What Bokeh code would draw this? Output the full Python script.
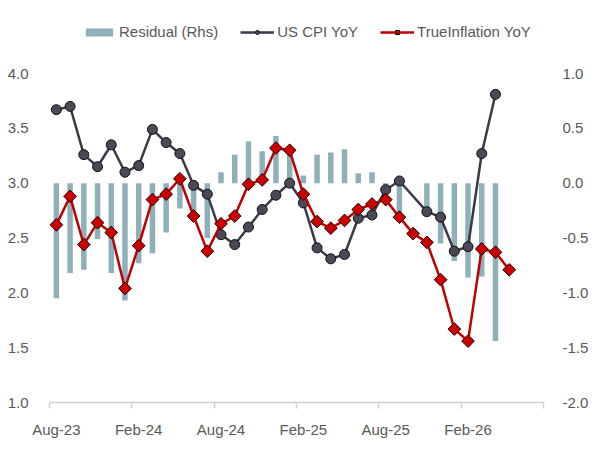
import numpy as np
from bokeh.plotting import figure
from bokeh.models import (Range1d, LinearAxis, FixedTicker, Legend, LegendItem,
                          ColumnDataSource, NumeralTickFormatter)
from bokeh.embed import file_html
from bokeh.resources import INLINE

# Monthly observations, Aug-23 .. May-26
months = ["Aug-23", "Sep-23", "Oct-23", "Nov-23", "Dec-23", "Jan-24", "Feb-24", "Mar-24",
          "Apr-24", "May-24", "Jun-24", "Jul-24", "Aug-24", "Sep-24", "Oct-24", "Nov-24",
          "Dec-24", "Jan-25", "Feb-25", "Mar-25", "Apr-25", "May-25", "Jun-25", "Jul-25",
          "Aug-25", "Sep-25", "Oct-25", "Nov-25", "Dec-25", "Jan-26", "Feb-26", "Mar-26",
          "Apr-26", "May-26"]

us_cpi = [3.67, 3.70, 3.26, 3.15, 3.35, 3.10, 3.16, 3.49, 3.37, 3.27, 2.98, 2.90,
          2.53, 2.44, 2.60, 2.76, 2.89, 3.00, 2.82, 2.41, 2.31, 2.35, 2.68, 2.71,
          2.94, 3.02, None, 2.74, 2.69, 2.38, 2.42, 3.27, 3.81, None]

true_inflation = [2.62, 2.88, 2.44, 2.64, 2.55, 2.04, 2.43, 2.85, 2.90, 3.04, 2.70, 2.38,
                  2.63, 2.70, 2.99, 3.03, 3.32, 3.30, 2.90, 2.65, 2.59, 2.66, 2.76, 2.81,
                  2.85, 2.69, 2.54, 2.46, 2.12, 1.67, 1.56, 2.40, 2.37, 2.21]

residual = [-1.05, -0.82, -0.79, -0.51, -0.82, -1.07, -0.73, -0.64, -0.45, -0.23, -0.26, -0.50,
            0.10, 0.26, 0.38, 0.29, 0.43, 0.27, 0.07, 0.26, 0.28, 0.31, 0.09, 0.10,
            -0.06, -0.28, None, -0.27, -0.55, -0.71, -0.86, -0.85, -1.44, None]

x_tick_labels = ["Aug-23", "Feb-24", "Aug-24", "Feb-25", "Aug-25", "Feb-26"]
lhs_ticks = [1.0, 1.5, 2.0, 2.5, 3.0, 3.5, 4.0]
rhs_ticks = [-2.0, -1.5, -1.0, -0.5, 0.0, 0.5, 1.0]

FONT = "Liberation Sans"
TEXT = "#595959"
FONT_SIZE = "15px"

# Layout: the scale runs from 1.0 (y=402px) to 4.0 (y=73px); the frame is
# stretched upward to y=15px so the legend can sit inside it above the data.
W, H = 600, 450
TOP, BOTTOM, LEFT, RIGHT = 15, 48, 49, 57
SCALE_TOP_PX = 73
frame_h = H - TOP - BOTTOM
scale_px = frame_h - (SCALE_TOP_PX - TOP)
headroom = 3.0 * (SCALE_TOP_PX - TOP) / scale_px

# month i sits at integer x; slot boundaries at half-integers
xpos = [float(i) for i in range(len(months))]

bar_src = ColumnDataSource(dict(
    x=[xv for xv, r in zip(xpos, residual) if r is not None],
    top=[r for r in residual if r is not None]))
cpi_src = ColumnDataSource(dict(
    x=[xv for xv, c in zip(xpos, us_cpi) if c is not None],
    y=[c for c in us_cpi if c is not None]))
ti_src = ColumnDataSource(dict(x=xpos, y=true_inflation))

p = figure(width=W, height=H, output_backend="svg", toolbar_location=None,
           x_range=Range1d(-0.5, 35.5), y_range=Range1d(1.0, 4.0 + headroom),
           min_border_left=LEFT, min_border_right=RIGHT,
           min_border_top=TOP, min_border_bottom=BOTTOM)
p.extra_y_ranges = {"rhs": Range1d(-2.0, 1.0 + headroom)}
p.xgrid.visible = False
p.ygrid.visible = False
p.outline_line_color = None

# left axis
ly = p.yaxis[0]
ly.ticker = FixedTicker(ticks=lhs_ticks)
ly.formatter = NumeralTickFormatter(format="0.0")
ly.axis_line_color = None
ly.major_tick_line_color = None
ly.minor_tick_line_color = None
ly.major_label_standoff = 15
ly.major_label_text_font = FONT
ly.major_label_text_font_size = FONT_SIZE
ly.major_label_text_color = TEXT

# right axis for the residual bars
ry = LinearAxis(y_range_name="rhs", ticker=FixedTicker(ticks=rhs_ticks),
                formatter=NumeralTickFormatter(format="0.0"))
ry.axis_line_color = None
ry.major_tick_line_color = None
ry.minor_tick_line_color = None
ry.major_label_standoff = 13
ry.major_label_text_font = FONT
ry.major_label_text_font_size = FONT_SIZE
ry.major_label_text_color = TEXT
p.add_layout(ry, "right")

# bottom axis: labels centred on the month, tick marks on slot boundaries
xa = p.xaxis[0]
xa.ticker = FixedTicker(ticks=[6 * k for k in range(len(x_tick_labels))],
                        minor_ticks=[6 * k - 0.5 for k in range(7)])
xa.major_label_overrides = {6 * k: lab for k, lab in enumerate(x_tick_labels)}
xa.axis_line_color = "#d0d0d0"
xa.axis_line_width = 1.5
xa.major_tick_line_color = None
xa.minor_tick_line_color = "#d0d0d0"
xa.minor_tick_line_width = 1.5
xa.minor_tick_in = 0
xa.minor_tick_out = 6
xa.major_label_standoff = 12
xa.major_label_text_font = FONT
xa.major_label_text_font_size = FONT_SIZE
xa.major_label_text_color = TEXT

BAR = "#8eb0b9"
bars = p.vbar(x="x", top="top", bottom=0, width=0.4, source=bar_src,
              y_range_name="rhs", fill_color=BAR, line_color=None)

cpi_line = p.line("x", "y", source=cpi_src, line_color="#3a3a48", line_width=2.5)
cpi_pts = p.scatter("x", "y", source=cpi_src, marker="circle", size=10,
                    fill_color="#494958", line_color="#111111", line_width=1)

ti_line = p.line("x", "y", source=ti_src, line_color="#c00000", line_width=2.5)
ti_pts = p.scatter("x", "y", source=ti_src, marker="square", angle=np.pi / 4, size=9,
                   fill_color="#cc0000", line_color="#1a0000", line_width=1)

# horizontal legend across the top (location is relative to the frame's bottom-left)
legend = Legend(items=[
    LegendItem(label="Residual (Rhs)", renderers=[bars]),
    LegendItem(label="US CPI YoY", renderers=[cpi_line, cpi_pts]),
    LegendItem(label="TrueInflation YoY", renderers=[ti_line, ti_pts]),
], orientation="horizontal", location=(33, frame_h - 25))
legend.glyph_width = 34
legend.glyph_height = 10
legend.label_standoff = 3
legend.spacing = 22
legend.padding = 0
legend.margin = 0
legend.border_line_color = None
legend.background_fill_alpha = 0
legend.label_text_font = FONT
legend.label_text_font_size = FONT_SIZE
legend.label_text_color = TEXT
p.add_layout(legend)

open("out.html", "w").write(file_html(p, INLINE))
